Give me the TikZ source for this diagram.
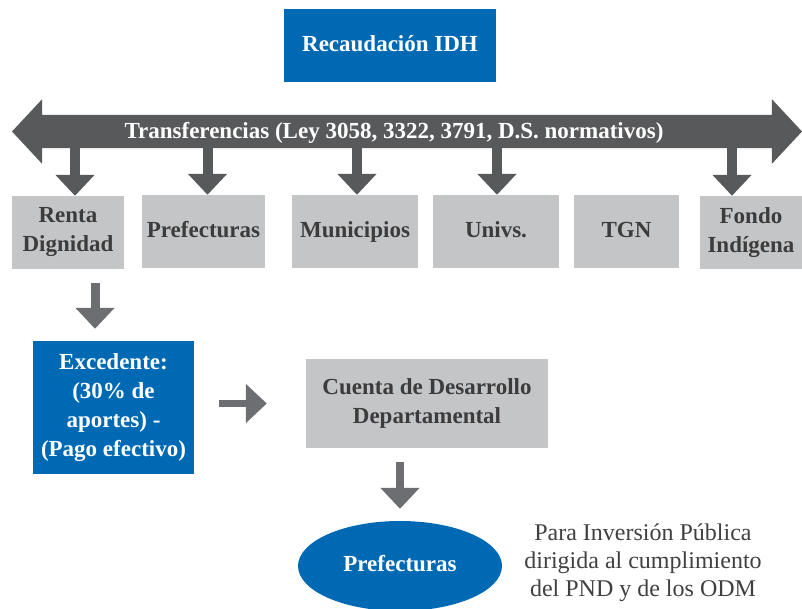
\documentclass[tikz,border=0pt]{standalone}
\usepackage{fontspec}
\setmainfont{Liberation Serif}
\usepackage{xcolor}
\usetikzlibrary{shapes,arrows.meta,positioning}

\definecolor{idhblue}{RGB}{0,105,180}
\definecolor{boxgray}{RGB}{196,197,199}
\definecolor{bargray}{RGB}{88,89,91}
\definecolor{arrowgray}{RGB}{109,110,113}
\definecolor{labelgray}{RGB}{60,60,60}
\definecolor{notegray}{RGB}{64,64,64}

\tikzset{
  boldtext/.style={font=\bfseries\fontsize{23}{29}\selectfont},
  oneline/.style={text height=16pt, text depth=5pt},
  bluebox/.style={fill=idhblue, text=white, inner sep=0pt, align=center, boldtext},
  graybox/.style={fill=boxgray, text=labelgray, inner sep=0pt, minimum height=73pt, align=center, boldtext},
  bararrow/.style={bargray, line width=10pt, -{Triangle[width=38pt,length=21pt]}},
  flowarrow/.style={arrowgray, line width=9pt, -{Triangle[width=38pt,length=21pt]}},
}

\begin{document}
\begin{tikzpicture}[x=1pt, y=-1pt]
    \useasboundingbox (0,0) rectangle (802,608);

    \node[bluebox, oneline, minimum width=212pt, minimum height=73pt] (idh) at (390,45.5) {Recaudación IDH};

    % transfer bar
    \node[double arrow, fill=bargray, inner xsep=0pt, inner ysep=16.5pt, minimum height=790pt,
          double arrow head extend=15.5pt, double arrow tip angle=94] (transf) at (407,131.5) {};

    \node[graybox, minimum width=112pt] (renta) at (68,232.5) {Renta\\Dignidad};
    \node[graybox, oneline, minimum width=123pt] (pref) at (203.5,231.5) {Prefecturas};
    \node[graybox, oneline, minimum width=126pt] (muni) at (355,231.5) {Municipios};
    \node[graybox, oneline, minimum width=126pt] (univ) at (496,231.5) {Univs.};
    \node[graybox, oneline, minimum width=105pt] (tgn) at (626.5,231.5) {TGN};
    \node[graybox, minimum width=102pt] (fondo) at (751,232.5) {Fondo\\Indígena};

    \foreach \dest/\shift in {renta/7, pref/4, muni/2, univ/1, fondo/-19}
        \draw[bararrow] ([xshift=\shift pt]\dest.north |- transf.south) -- ([xshift=\shift pt]\dest.north);

    \node[text=white, boldtext, anchor=base] (transflbl) at (394,138) {Transferencias (Ley 3058, 3322, 3791, D.S. normativos)};

    \node[bluebox, minimum width=161pt, minimum height=133pt] (exced) at (113.5,407.5) {Excedente:\\(30\% de\\aportes) -\\(Pago efectivo)};
    \node[graybox, minimum width=242pt, minimum height=89pt] (cuenta) at (427,403.5) {Cuenta de Desarrollo\\Departamental};
    \node[ellipse, fill=idhblue, text=white, inner sep=0pt, minimum width=204pt, minimum height=90pt, boldtext, oneline] (prefell) at (400,566) {Prefecturas};
    \node[text=notegray, align=center, font=\fontsize{24}{28}\selectfont] (note) at (643,563) {Para Inversión Pública\\dirigida al cumplimiento\\del PND y de los ODM};

    \draw[flowarrow, shorten <=14pt, shorten >=12pt] ([xshift=27pt]renta.south) -- ([xshift=27pt]renta.south |- exced.north);
    \draw[flowarrow, line width=7pt, shorten <=25pt, shorten >=39pt] (exced.east |- cuenta.west) -- (cuenta.west);
    \draw[flowarrow, line width=8pt, shorten <=14pt, shorten >=12pt] (cuenta.south -| prefell.north) -- (prefell.north);
\end{tikzpicture}
\end{document}
